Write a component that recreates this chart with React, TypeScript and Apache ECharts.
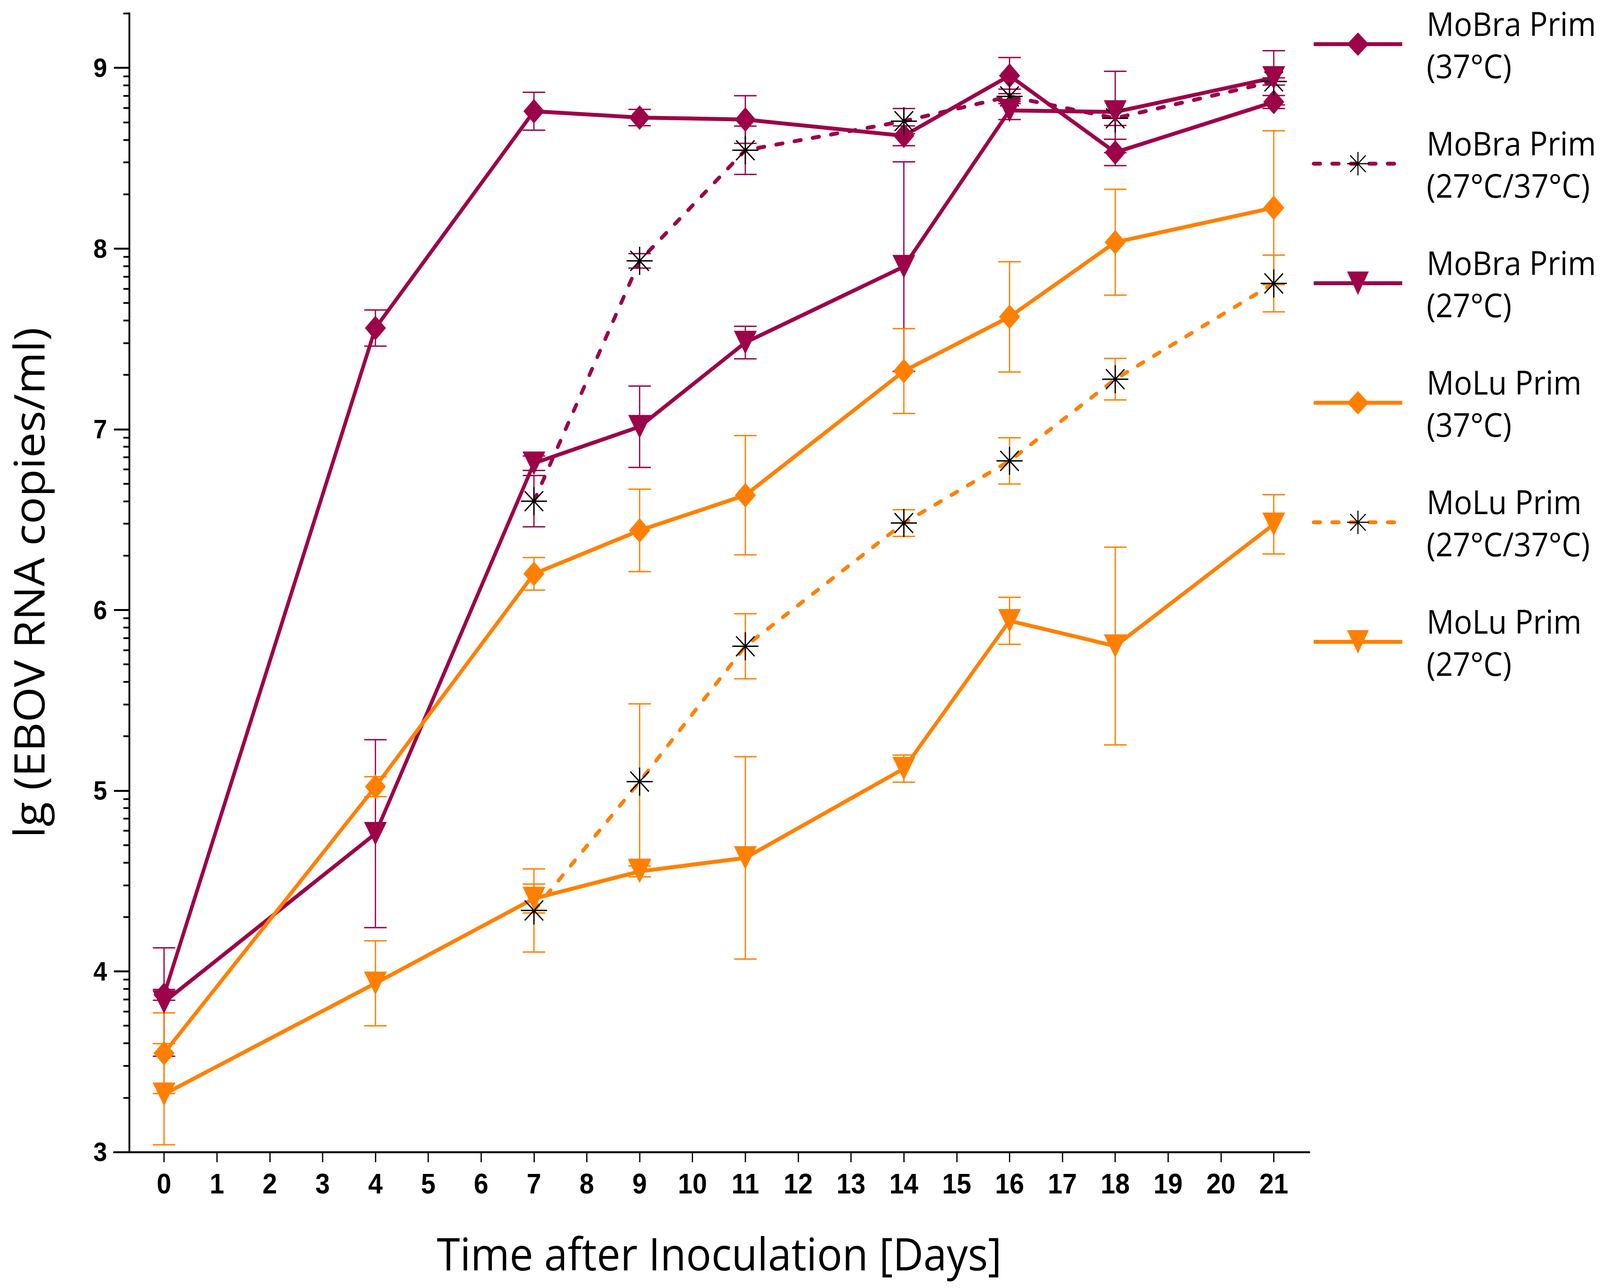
import React, { useEffect, useRef } from 'react';
import * as echarts from 'echarts';

// ---------- data ----------
const DAYS = [0, 4, 7, 9, 11, 14, 16, 18, 21];
const SWITCH_DAYS = [7, 9, 11, 14, 16, 18, 21];

const MOBRA_37 = [3.87, 7.56, 8.76, 8.725, 8.714, 8.624, 8.957, 8.532, 8.811];
const MOBRA_37_ERR = [0.03, 0.1, 0.105, 0.045, 0.132, 0.055, 0.1, 0.073, 0.036];

const MOBRA_27_37 = [6.602, 7.932, 8.544, 8.705, 8.842, 8.721, 8.925];
const MOBRA_27_37_ERR = [0.142, 0.04, 0.134, 0.07, 0.04, 0.04, 0.02];

const MOBRA_27 = [3.83, 4.762, 6.812, 7.014, 7.48, 7.9, 8.764, 8.756, 8.945];
const MOBRA_27_ERR = [0.3, 0.52, 0.04, 0.225, 0.09, 0.58, 0.05, 0.225, 0.15];

const MOLU_37 = [3.547, 5.022, 6.2, 6.44, 6.635, 7.322, 7.622, 8.035, 8.226];
const MOLU_37_ERR = [0.223, 0.055, 0.09, 0.228, 0.33, 0.235, 0.305, 0.293, 0.426];

const MOLU_27_37 = [4.337, 5.05, 5.799, 6.481, 6.825, 7.277, 7.807];
const MOLU_27_37_ERR = [0.23, 0.43, 0.18, 0.074, 0.128, 0.115, 0.157];

const MOLU_27 = [3.32, 3.934, 4.403, 4.553, 4.628, 5.122, 5.94, 5.8, 6.474];
const MOLU_27_ERR = [0.28, 0.235, 0.08, 0.03, 0.56, 0.075, 0.13, 0.547, 0.164];

const X_TICKS = [0, 1, 2, 3, 4, 5, 6, 7, 8, 9, 10, 11, 12, 13, 14, 15, 16, 17, 18, 19, 20, 21];
const Y_TICKS = [3, 4, 5, 6, 7, 8, 9];
const DECADE_STEPS = [2, 3, 4, 5, 6, 7, 8, 9];

const Y_MIN = 3;
const Y_MAX = 9.302;
const X_MIN = -0.948;
const X_MAX = 21.673;

// design size of the figure
const DESIGN_W = 4409;
const DESIGN_H = 3297;

// log-spaced minor ticks inside each unit (lg scale)
const MINOR_TICKS: number[] = [];
Y_TICKS.forEach((base) => {
  DECADE_STEPS.forEach((n) => {
    const v = base + Math.log10(n);
    if (v <= Y_MAX) MINOR_TICKS.push(v);
  });
});

const CRIMSON = '#9C0349';
const ORANGE = '#FF8000';

const DIAMOND = 'diamond';
const TRIANGLE_DOWN = 'path://M0,0L2,0L1,2Z';
const ASTERISK =
  'path://M0,-1L0,1M-1,0L1,0M-0.7071,-0.7071L0.7071,0.7071M-0.7071,0.7071L0.7071,-0.7071';

const GROUPS = [
  { name: 'MoBra Prim (37°C)', days: DAYS, mean: MOBRA_37, err: MOBRA_37_ERR, color: CRIMSON, symbol: DIAMOND, size: [58, 63], dashed: false },
  { name: 'MoBra Prim (27°C/37°C)', days: SWITCH_DAYS, mean: MOBRA_27_37, err: MOBRA_27_37_ERR, color: CRIMSON, symbol: ASTERISK, size: [72, 72], dashed: true },
  { name: 'MoBra Prim (27°C)', days: DAYS, mean: MOBRA_27, err: MOBRA_27_ERR, color: CRIMSON, symbol: TRIANGLE_DOWN, size: [63, 60], dashed: false },
  { name: 'MoLu Prim (37°C)', days: DAYS, mean: MOLU_37, err: MOLU_37_ERR, color: ORANGE, symbol: DIAMOND, size: [58, 63], dashed: false },
  { name: 'MoLu Prim (27°C/37°C)', days: SWITCH_DAYS, mean: MOLU_27_37, err: MOLU_27_37_ERR, color: ORANGE, symbol: ASTERISK, size: [72, 72], dashed: true },
  { name: 'MoLu Prim (27°C)', days: DAYS, mean: MOLU_27, err: MOLU_27_ERR, color: ORANGE, symbol: TRIANGLE_DOWN, size: [63, 60], dashed: false },
];

function buildOption() {
  const series: any[] = [];
  GROUPS.forEach((g, gi) => {
    const color = g.color;
    series.push({
      type: 'custom',
      name: 'err' + gi,
      silent: true,
      z: 2,
      data: g.days.map((d, i) => [d, g.mean[i], g.err[i]]),
      encode: { x: 0, y: 1 },
      renderItem: (params: any, api: any) => {
        const x = api.value(0);
        const y = api.value(1);
        const e = api.value(2);
        const top = api.coord([x, y + e]);
        const bot = api.coord([x, y - e]);
        const half = 31;
        const style = { stroke: color, lineWidth: 3.5 };
        return {
          type: 'group',
          children: [
            { type: 'line', shape: { x1: top[0], y1: top[1], x2: bot[0], y2: bot[1] }, style },
            { type: 'line', shape: { x1: top[0] - half, y1: top[1], x2: top[0] + half, y2: top[1] }, style },
            { type: 'line', shape: { x1: bot[0] - half, y1: bot[1], x2: bot[0] + half, y2: bot[1] }, style },
          ],
        };
      },
    });
    series.push({
      type: 'line',
      name: g.name,
      z: 2,
      data: g.days.map((d, i) => [d, g.mean[i]]),
      symbol: g.symbol,
      symbolSize: g.size,
      showSymbol: true,
      showAllSymbol: true,
      emphasis: { disabled: true },
      lineStyle: g.dashed
        ? { color, width: 10, type: [18, 33], cap: 'round' }
        : { color, width: 10, type: 'solid' },
      itemStyle: g.dashed
        ? { color: '#000000', borderColor: '#000000', borderWidth: 3.5 }
        : { color, borderWidth: 0 },
    });
  });

  return {
    animation: false,
    backgroundColor: '#ffffff',
    grid: {
      left: 314,
      right: 801,
      top: 34,
      bottom: 348,
      containLabel: false,
      outerBoundsMode: 'none',
    },
    xAxis: {
      type: 'value',
      min: X_MIN,
      max: X_MAX,
      name: 'Time after Inoculation [Days]',
      nameLocation: 'middle',
      nameGap: 200,
      nameTextStyle: {
        fontFamily: 'Open Sans',
        fontSize: 116,
        color: '#000',
        padding: [0, 0, 0, 42],
      },
      axisLine: { show: true, onZero: false, lineStyle: { color: '#000', width: 5 } },
      axisTick: {
        show: true,
        customValues: X_TICKS,
        length: 26,
        lineStyle: { color: '#000', width: 3.5 },
      },
      axisLabel: {
        show: true,
        customValues: X_TICKS,
        margin: 45,
        fontFamily: 'Liberation Sans',
        fontWeight: 'bold',
        fontSize: 72,
        color: '#000',
      },
      splitLine: { show: false },
    },
    yAxis: [
      {
        type: 'value',
        min: Y_MIN,
        max: Y_MAX,
        offset: -42,
        position: 'left',
        name: 'lg (EBOV RNA copies/ml)',
        nameLocation: 'middle',
        nameGap: 220,
        nameTextStyle: { fontFamily: 'Open Sans', fontSize: 116, color: '#000' },
        axisLine: { show: true, onZero: false, lineStyle: { color: '#000', width: 5 } },
        axisTick: {
          show: true,
          customValues: Y_TICKS,
          length: 42,
          lineStyle: { color: '#000', width: 5 },
        },
        axisLabel: {
          show: true,
          customValues: Y_TICKS,
          margin: 61,
          fontFamily: 'Liberation Sans',
          fontWeight: 'bold',
          fontSize: 68,
          color: '#000',
        },
        splitLine: { show: false },
      },
      {
        type: 'value',
        min: Y_MIN,
        max: Y_MAX,
        offset: -42,
        position: 'left',
        axisLine: { show: false, onZero: false },
        axisTick: {
          show: true,
          customValues: MINOR_TICKS,
          length: 16,
          lineStyle: { color: '#000', width: 4.5 },
        },
        axisLabel: { show: false },
        splitLine: { show: false },
      },
    ],
    legend: {
      orient: 'vertical',
      left: 3610,
      top: 0,
      itemWidth: 244,
      itemHeight: 75,
      itemGap: 90,
      selectedMode: false,
      lineStyle: { width: 10 },
      data: GROUPS.map((g) =>
        g.dashed ? { name: g.name, itemStyle: { borderWidth: 3 } } : { name: g.name }
      ),
      formatter: (n: string) => n.replace(' (', '\n('),
      textStyle: {
        fontFamily: 'Open Sans',
        fontSize: 84,
        lineHeight: 108,
        color: '#000',
        padding: [0, 0, 0, 62],
      },
    },
    series,
  };
}

export default function App() {
  const ref = useRef<HTMLDivElement>(null);
  useEffect(() => {
    document.documentElement.style.margin = '0';
    document.documentElement.style.overflow = 'hidden';
    document.body.style.margin = '0';
    document.body.style.overflow = 'hidden';
    const el = ref.current;
    if (!el) return;
    // fit the design-size figure into the actual viewport
    const vw = window.innerWidth || DESIGN_W;
    const vh = window.innerHeight || DESIGN_H;
    const sx = Math.min(1, vw / DESIGN_W);
    const sy = Math.min(1, vh / DESIGN_H);
    el.style.transform = `scale(${sx}, ${sy})`;
    el.style.transformOrigin = '0 0';
    const chart = echarts.init(el, undefined, { renderer: 'svg' });
    chart.setOption(buildOption() as any);
    return () => {
      chart.dispose();
    };
  }, []);
  return (
    <div
      ref={ref}
      style={{ position: 'absolute', left: 0, top: 0, width: DESIGN_W, height: DESIGN_H }}
    />
  );
}
